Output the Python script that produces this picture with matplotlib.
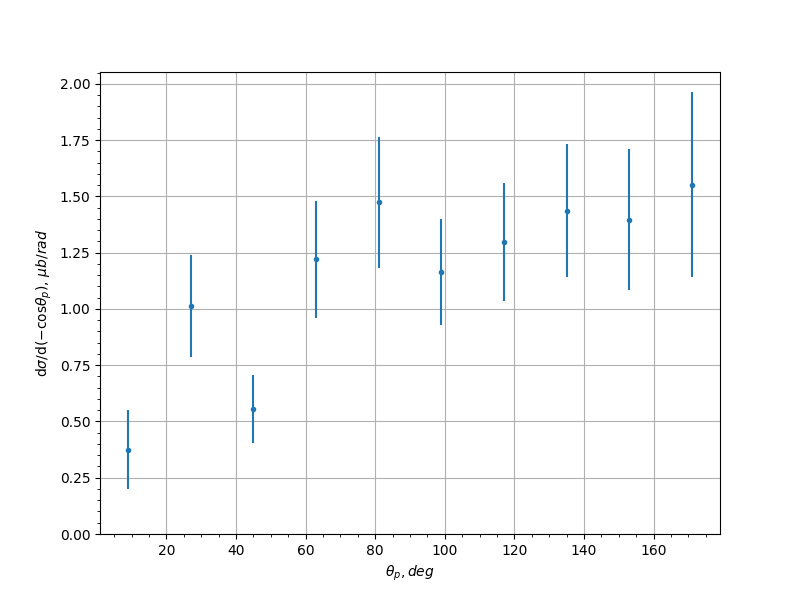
import matplotlib
matplotlib.use("Agg")
import matplotlib.pyplot as plt

theta = [9, 27, 45, 63, 81, 99, 117, 135, 153, 171]
dsigma = [0.375, 1.013, 0.556, 1.221, 1.474, 1.164, 1.298, 1.436, 1.396, 1.552]
err = [0.177, 0.226, 0.150, 0.260, 0.291, 0.237, 0.262, 0.295, 0.313, 0.410]

fig, ax = plt.subplots(figsize=(8, 6), dpi=100)
ax.errorbar(theta, dsigma, yerr=err, fmt='.')
ax.set_ylim(0, 2.053)
ax.set_xlabel(r'$\theta_p, deg$')
ax.set_ylabel(r'd$\sigma$/d($-$cos$\theta_p$), $\mu b/rad$')
ax.grid(True)
ax.minorticks_on()
fig.savefig("out.png")
